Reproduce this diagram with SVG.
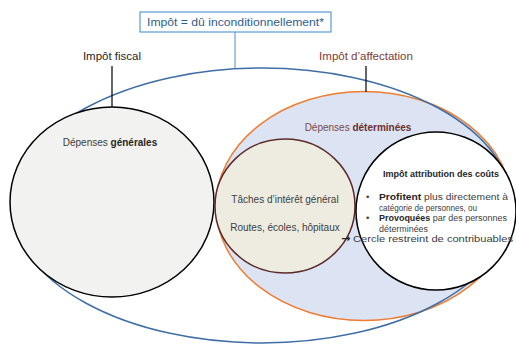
<svg xmlns="http://www.w3.org/2000/svg" width="516" height="344" viewBox="0 0 516 344">
<style>
text{font-family:"Liberation Sans",Arial,sans-serif;fill:#404040}
.t{font-size:10px}
.s{font-size:9.6px}
.h{font-size:8.8px}
.b{font-weight:bold}
.lead{stroke:#000;stroke-width:1.2}
</style>
<rect width="516" height="344" fill="#fff"/>
<g id="affectation">
<ellipse cx="364" cy="206" rx="148" ry="114.5" fill="#dce3f2" stroke="#ed7d31" stroke-width="1.5"/>
<text x="358" y="131" class="t" text-anchor="middle" style="fill:#7a4a4a">Dépenses <tspan class="b" style="fill:#6b2f2f">déterminées</tspan></text>
</g>
<g id="connectors">
<ellipse cx="262" cy="205.5" rx="250" ry="137.5" fill="none" stroke="#3f6ea6" stroke-width="1.5"/>
<line x1="235" y1="32" x2="235" y2="68" stroke="#6f9fd0" stroke-width="1.2"/>
<line class="lead" x1="112" y1="66" x2="112" y2="107"/>
<line class="lead" x1="366" y1="66" x2="366" y2="92"/>
</g>
<g id="title">
<rect x="140" y="12" width="191" height="20" fill="#fff" stroke="#5b9bd5" stroke-width="1.2"/>
<text x="235.5" y="26" font-size="11.5" text-anchor="middle" style="fill:#2f5e91" textLength="177" lengthAdjust="spacingAndGlyphs">Impôt = dû inconditionnellement*</text>
</g>
<g id="label-fiscal">
<text x="112" y="60" font-size="11.5" text-anchor="middle" style="fill:#262626">Impôt fiscal</text>
</g>
<g id="label-affectation">
<text x="366" y="60" font-size="11.5" text-anchor="middle" style="fill:#7b3b3b">Impôt d’affectation</text>
</g>
<g id="generales">
<ellipse cx="112" cy="202" rx="102" ry="95" fill="#f2f2f0" stroke="#000" stroke-width="1.5"/>
<text x="110" y="146" class="t" text-anchor="middle">Dépenses <tspan class="b" style="fill:#262626">générales</tspan></text>
</g>
<g id="taches">
<ellipse cx="285" cy="206" rx="70" ry="67" fill="#eeece1" stroke="#5c2a2a" stroke-width="1.5"/>
<text x="285" y="203" class="t" text-anchor="middle">Tâches d’intérêt général</text>
<text x="285" y="231" class="t" text-anchor="middle">Routes, écoles, hôpitaux</text>
</g>
<g id="attribution">
<ellipse cx="436" cy="211" rx="80" ry="79" fill="#fff" stroke="#000" stroke-width="1.5"/>
<text x="383" y="177" class="h b" style="fill:#262626" textLength="116" lengthAdjust="spacingAndGlyphs">Impôt attribution  des coûts</text>
<text x="366" y="200" class="s">•</text>
<text x="379" y="200" class="s" textLength="129" lengthAdjust="spacingAndGlyphs"><tspan class="b" style="fill:#262626">Profitent</tspan> plus directement à</text>
<text x="379" y="210.5" class="s" textLength="98" lengthAdjust="spacingAndGlyphs">catégorie de personnes, ou</text>
<text x="366" y="221" class="s">•</text>
<text x="379" y="221" class="s" textLength="128" lengthAdjust="spacingAndGlyphs"><tspan class="b" style="fill:#262626">Provoquées</tspan> par des personnes</text>
<text x="379" y="231.5" class="s" textLength="49" lengthAdjust="spacingAndGlyphs">déterminées</text>
<text x="341" y="242" font-size="11" font-weight="bold" style="font-family:'DejaVu Sans',sans-serif;fill:#262626">→</text>
<text x="353" y="242" class="s" textLength="160" lengthAdjust="spacingAndGlyphs">Cercle restreint de contribuables</text>
</g>
</svg>
